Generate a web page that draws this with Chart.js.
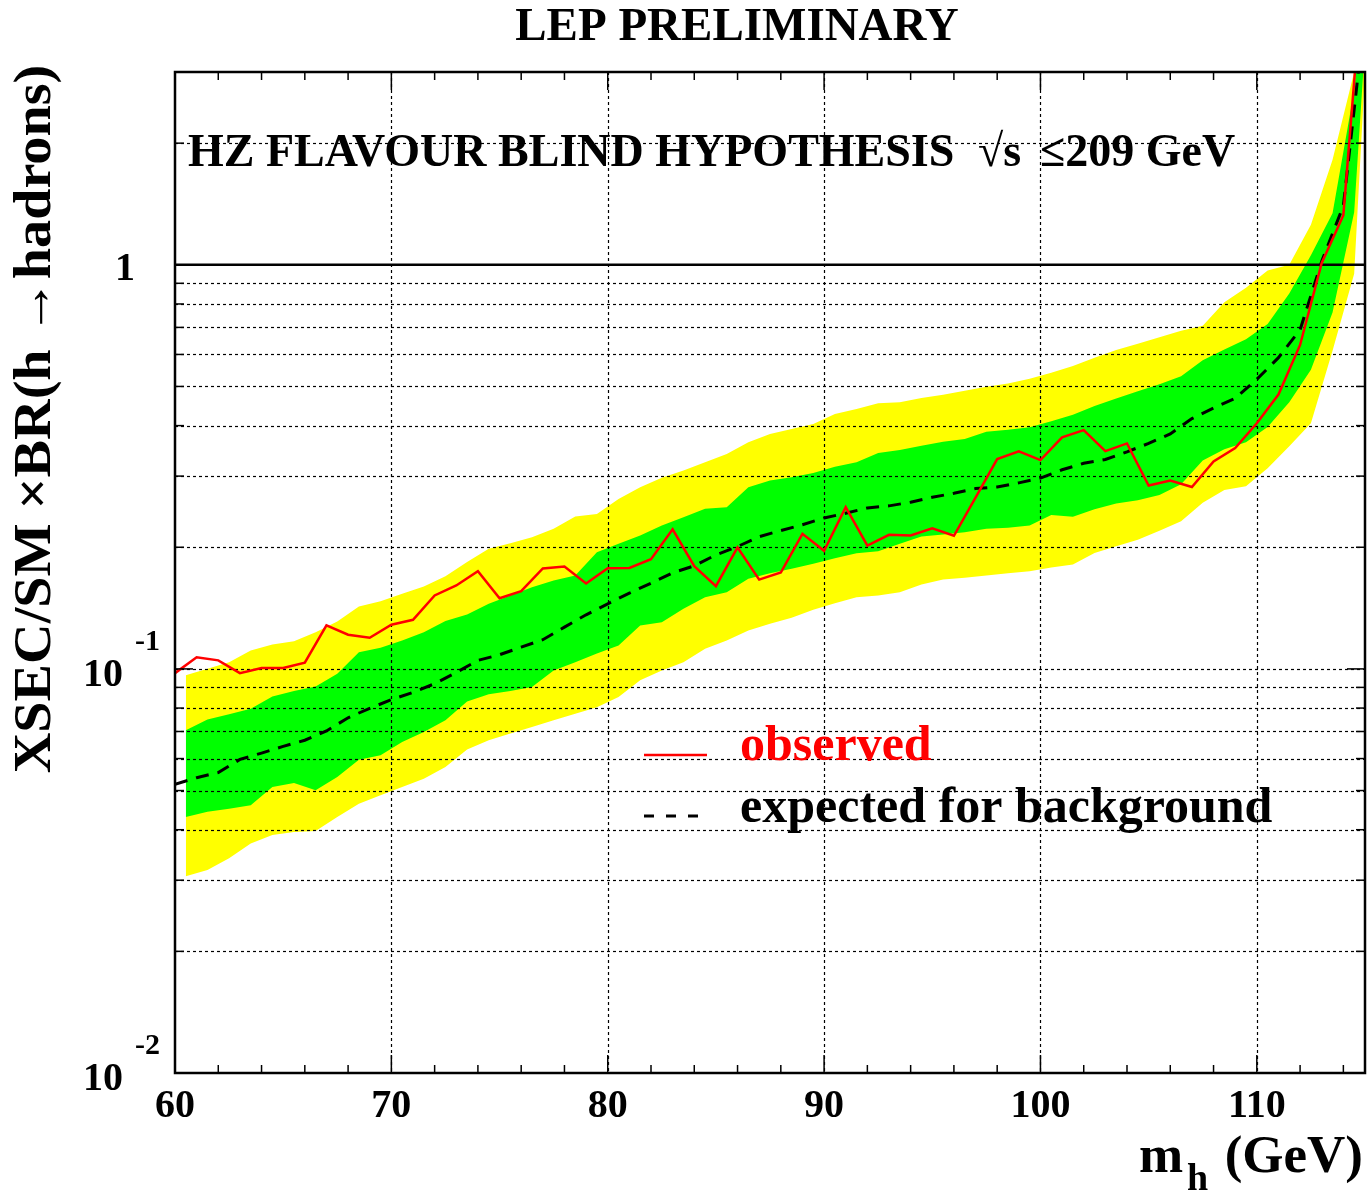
<!DOCTYPE html>
<html><head><meta charset="utf-8">
<script src="https://cdn.jsdelivr.net/npm/chart.js@4.4.0/dist/chart.umd.min.js"></script>
<style>html,body{margin:0;padding:0;background:#fff}canvas{display:block}</style>
</head><body>
<canvas id="c" width="1368" height="1193"></canvas>
<script>
// ---- data ----
const massPoints = [60,61,62,63,64,65,66,67,68,69,70,71,72,73,74,75,76,77,78,79,80,81,82,83,84,85,86,87,88,89,90,91,92,93,94,95,96,97,98,99,100,101,102,103,104,105,106,107,108,109,110,111,112,113,114,115];
const observed = [0.0976,0.1068,0.105,0.0976,0.1005,0.1005,0.1036,0.1281,0.1215,0.1194,0.1286,0.1323,0.152,0.1609,0.1745,0.1496,0.1557,0.1772,0.1792,0.1627,0.1775,0.1777,0.1868,0.2216,0.1795,0.1602,0.1998,0.1663,0.1732,0.2159,0.196,0.2512,0.202,0.2147,0.2138,0.2229,0.2135,0.2654,0.3305,0.3455,0.3286,0.3741,0.3899,0.3459,0.3614,0.2843,0.2926,0.2819,0.3262,0.352,0.4054,0.4774,0.6334,1.011,1.327,6.1];
const expected = [0.0518,0.0538,0.0554,0.0597,0.0619,0.0643,0.0666,0.0702,0.0757,0.0799,0.0839,0.0875,0.0919,0.098,0.105,0.1084,0.1132,0.1181,0.1269,0.1361,0.1449,0.154,0.163,0.1729,0.1799,0.1915,0.2008,0.2124,0.22,0.2273,0.2364,0.2427,0.2503,0.2532,0.2585,0.2659,0.272,0.2794,0.282,0.2886,0.2966,0.311,0.3227,0.3298,0.3445,0.3614,0.3815,0.4163,0.4421,0.4671,0.5208,0.5892,0.6907,1.02,1.4,4.2];
const bandMass = [60.5,61.5,62.5,63.5,64.5,65.5,66.5,67.5,68.5,69.5,70.5,71.5,72.5,73.5,74.5,75.5,76.5,77.5,78.5,79.5,80.5,81.5,82.5,83.5,84.5,85.5,86.5,87.5,88.5,89.5,90.5,91.5,92.5,93.5,94.5,95.5,96.5,97.5,98.5,99.5,100.5,101.5,102.5,103.5,104.5,105.5,106.5,107.5,108.5,109.5,110.5,111.5,112.5,113.5,114.5,115];
const yellowUpper = [0.0964,0.1001,0.1039,0.1111,0.1149,0.1171,0.1233,0.1311,0.1427,0.1471,0.1534,0.16,0.1696,0.184,0.1982,0.2046,0.2118,0.2221,0.2382,0.2418,0.2634,0.2814,0.297,0.3096,0.3245,0.3404,0.3637,0.3815,0.3925,0.4038,0.4275,0.4398,0.4541,0.4567,0.4681,0.4771,0.488,0.4993,0.5088,0.5226,0.5404,0.5619,0.5892,0.6158,0.6374,0.6614,0.6864,0.7064,0.8083,0.8778,0.968,1.0,1.256,1.819,3.0,6.0];
const greenUpper = [0.0705,0.0749,0.0772,0.0797,0.0855,0.0882,0.0905,0.0973,0.11,0.1128,0.1176,0.1233,0.1313,0.1364,0.1449,0.152,0.1593,0.1655,0.1703,0.1944,0.2039,0.2138,0.2263,0.2372,0.2489,0.2512,0.2814,0.2924,0.2979,0.3055,0.3166,0.3245,0.3423,0.3482,0.3568,0.3651,0.3708,0.3865,0.3909,0.3961,0.41,0.4253,0.4471,0.4671,0.4867,0.5061,0.5298,0.5805,0.6173,0.6543,0.714,0.8492,1.056,1.341,2.7,5.0];
const greenLower = [0.043,0.0443,0.0451,0.046,0.051,0.0522,0.0501,0.054,0.0596,0.0611,0.0659,0.0698,0.0746,0.083,0.0865,0.0882,0.0902,0.0991,0.1039,0.1091,0.1143,0.1281,0.1305,0.1408,0.1505,0.1548,0.1671,0.1725,0.1769,0.182,0.1879,0.1933,0.1955,0.2039,0.2127,0.2151,0.2179,0.2221,0.2234,0.2263,0.2405,0.2379,0.2485,0.2568,0.2613,0.2694,0.2862,0.3277,0.3496,0.3637,0.3967,0.4569,0.5497,0.7616,1.35,3.5];
const yellowLower = [0.0307,0.0318,0.034,0.037,0.0388,0.0395,0.0397,0.043,0.0464,0.0487,0.051,0.0535,0.0572,0.0632,0.0666,0.0692,0.0718,0.0746,0.0775,0.0804,0.0852,0.0937,0.0991,0.1039,0.1121,0.1176,0.1245,0.1293,0.1338,0.14,0.1454,0.1505,0.152,0.1548,0.1618,0.1664,0.168,0.1702,0.1725,0.1745,0.1782,0.1813,0.1935,0.2012,0.2088,0.2196,0.2318,0.2578,0.2772,0.2833,0.3136,0.3557,0.4054,0.6131,0.95,3.0];
const unityMass = [60, 115];
const unityLevel = [1, 1];

// ---- axes / ticks ----
const xRange = [60, 115];
const yRange = [0.01, 3];
const xLabelValues = [60, 70, 80, 90, 100, 110];
const xTickLabels = ['60', '70', '80', '90', '100', '110'];
const xMinorTicks = [62,64,66,68,72,74,76,78,82,84,86,88,92,94,96,98,102,104,106,108,112,114];
const xGridLines = [70, 80, 90, 100, 110];
const yMajorTicks = [0.01, 0.1, 1];
const yLabelBase = ['10', '10', '1'];
const yLabelExp = ['-2', '-1', ''];
const yMinorTicks = [0.02,0.03,0.04,0.05,0.06,0.07,0.08,0.09,0.2,0.3,0.4,0.5,0.6,0.7,0.8,0.9,2,3];
const yGridLines = [0.02,0.03,0.04,0.05,0.06,0.07,0.08,0.09,0.1,0.2,0.3,0.4,0.5,0.6,0.7,0.8,0.9,2];

// ---- text ----
const titleText = 'LEP PRELIMINARY';
const noteText = ['HZ FLAVOUR BLIND HYPOTHESIS', '\u221As', '\u2264209 GeV'];
const yTitle = 'XSEC/SM \u00D7BR(h \u2192hadrons)';
const legendLabels = ['observed', 'expected for background'];

const FONT = '"Liberation Serif","Times New Roman",Times,serif';
const RED = '#ff0000', YELLOW = '#ffff00', GREEN = '#00ff00';

function pts(xs, ys) { return xs.map((x, i) => ({ x: x, y: ys[i] })); }

function seg(ctx, x1, y1, x2, y2) { ctx.beginPath(); ctx.moveTo(x1, y1); ctx.lineTo(x2, y2); ctx.stroke(); }

const decor = {
  id: 'decor',
  beforeDatasetDraw(chart, args) {
    if (args.index !== 6) return;
    const { ctx, chartArea: a, scales: { x, y } } = chart;
    ctx.save();
    ctx.beginPath(); ctx.rect(a.left, a.top, a.right - a.left, a.bottom - a.top); ctx.clip();
    ctx.strokeStyle = '#000'; ctx.lineWidth = 1.2; ctx.setLineDash([3, 3]);
    yGridLines.forEach(v => { const py = Math.round(y.getPixelForValue(v)) + 0.5; seg(ctx, a.left, py, a.right, py); });
    xGridLines.forEach(v => { const px = Math.round(x.getPixelForValue(v)) + 0.5; seg(ctx, px, a.top, px, a.bottom); });
    ctx.restore();
  },
  afterDraw(chart) {
    const { ctx, chartArea: a, scales: { x, y } } = chart;
    ctx.save();
    ctx.strokeStyle = '#000'; ctx.setLineDash([]);
    // ticks
    ctx.lineWidth = 1.5;
    const tick = (v, len, isX) => {
      if (isX) {
        const px = x.getPixelForValue(v);
        seg(ctx, px, a.bottom, px, a.bottom - len);
        seg(ctx, px, a.top, px, a.top + len);
      } else {
        const py = y.getPixelForValue(v);
        seg(ctx, a.left, py, a.left + len, py);
        seg(ctx, a.right, py, a.right - len, py);
      }
    };
    xMinorTicks.forEach(v => tick(v, 8, true));
    xLabelValues.forEach(v => tick(v, 18, true));
    yMinorTicks.forEach(v => tick(v, 9, false));
    yMajorTicks.forEach(v => tick(v, 18, false));
    // frame
    ctx.lineWidth = 2.5;
    ctx.strokeRect(a.left, a.top, a.right - a.left, a.bottom - a.top);

    ctx.fillStyle = '#000';
    // title
    ctx.font = 'bold 47px ' + FONT; ctx.textAlign = 'center'; ctx.textBaseline = 'alphabetic';
    ctx.fillText(titleText, 737, 40);
    // annotation
    ctx.textAlign = 'left';
    ctx.font = 'bold 46px ' + FONT;
    ctx.fillText(noteText[0], 188, 166);
    ctx.fillText(noteText[1], 978, 166);
    ctx.fillText(noteText[2], 1040, 166);
    // x tick labels
    ctx.font = 'bold 40px ' + FONT; ctx.textAlign = 'center';
    xLabelValues.forEach((v, i) => ctx.fillText(xTickLabels[i], x.getPixelForValue(v), 1117));
    // y tick labels
    yMajorTicks.forEach((v, i) => {
      const py = y.getPixelForValue(v);
      ctx.font = 'bold 40px ' + FONT; ctx.textAlign = 'right';
      if (yLabelExp[i]) {
        ctx.fillText(yLabelBase[i], 123, py + 17);
        ctx.font = 'bold 30px ' + FONT; ctx.textAlign = 'left';
        ctx.fillText(yLabelExp[i], 135, py - 19);
      } else {
        ctx.fillText(yLabelBase[i], 135, py + 15);
      }
    });
    // x title
    ctx.font = 'bold 53px ' + FONT; ctx.textAlign = 'left';
    ctx.fillText('m', 1139, 1172);
    ctx.font = 'bold 38px ' + FONT;
    ctx.fillText('h', 1187, 1190);
    ctx.font = 'bold 53px ' + FONT; ctx.textAlign = 'right';
    ctx.fillText('(GeV)', 1363, 1172);
    // y title
    ctx.save();
    ctx.translate(50, 419); ctx.rotate(-Math.PI / 2); ctx.scale(1.06, 1);
    ctx.font = 'bold 53px ' + FONT; ctx.textAlign = 'center';
    ctx.fillText(yTitle, 0, 0);
    ctx.restore();
    // legend
    const d0 = chart.data.datasets[0], d1 = chart.data.datasets[1];
    ctx.strokeStyle = d0.borderColor; ctx.lineWidth = d0.borderWidth;
    seg(ctx, 644, 755, 707, 755);
    ctx.strokeStyle = d1.borderColor; ctx.lineWidth = d1.borderWidth; ctx.setLineDash([10, 12]);
    seg(ctx, 644, 816, 702, 816);
    ctx.setLineDash([]);
    ctx.font = 'bold 50px ' + FONT; ctx.textAlign = 'left';
    ctx.fillStyle = RED; ctx.fillText(legendLabels[0], 740, 760);
    ctx.fillStyle = '#000'; ctx.fillText(legendLabels[1], 740, 822);
    ctx.restore();
  }
};

const noBorder = { borderWidth: 0, borderColor: 'rgba(0,0,0,0)', pointRadius: 0 };

new Chart(document.getElementById('c'), {
  type: 'line',
  data: {
    datasets: [
      { label: 'observed', data: pts(massPoints, observed), borderColor: RED, borderWidth: 2.5, pointRadius: 0, fill: false, order: 0, tension: 0 },
      { label: 'expected', data: pts(massPoints, expected), borderColor: '#000', borderWidth: 3, borderDash: [13, 9], pointRadius: 0, fill: false, order: 1, tension: 0 },
      Object.assign({ label: 'green up', data: pts(bandMass, greenUpper), backgroundColor: GREEN, fill: '+1', order: 3 }, noBorder),
      Object.assign({ label: 'green low', data: pts(bandMass, greenLower), fill: false, order: 3 }, noBorder),
      Object.assign({ label: 'yellow up', data: pts(bandMass, yellowUpper), backgroundColor: YELLOW, fill: '+1', order: 4 }, noBorder),
      Object.assign({ label: 'yellow low', data: pts(bandMass, yellowLower), fill: false, order: 4 }, noBorder),
      { label: 'unity', data: pts(unityMass, unityLevel), borderColor: '#000', borderWidth: 2.5, pointRadius: 0, fill: false, order: 2 }
    ]
  },
  options: {
    responsive: false,
    animation: false,
    devicePixelRatio: 1,
    layout: { padding: { left: 175, right: 3, top: 72, bottom: 120 } },
    scales: {
      x: { type: 'linear', min: xRange[0], max: xRange[1], display: false },
      y: { type: 'logarithmic', min: yRange[0], max: yRange[1], display: false }
    },
    plugins: { legend: { display: false }, tooltip: { enabled: false }, title: { display: false } },
    events: []
  },
  plugins: [decor]
});
</script>
</body></html>
